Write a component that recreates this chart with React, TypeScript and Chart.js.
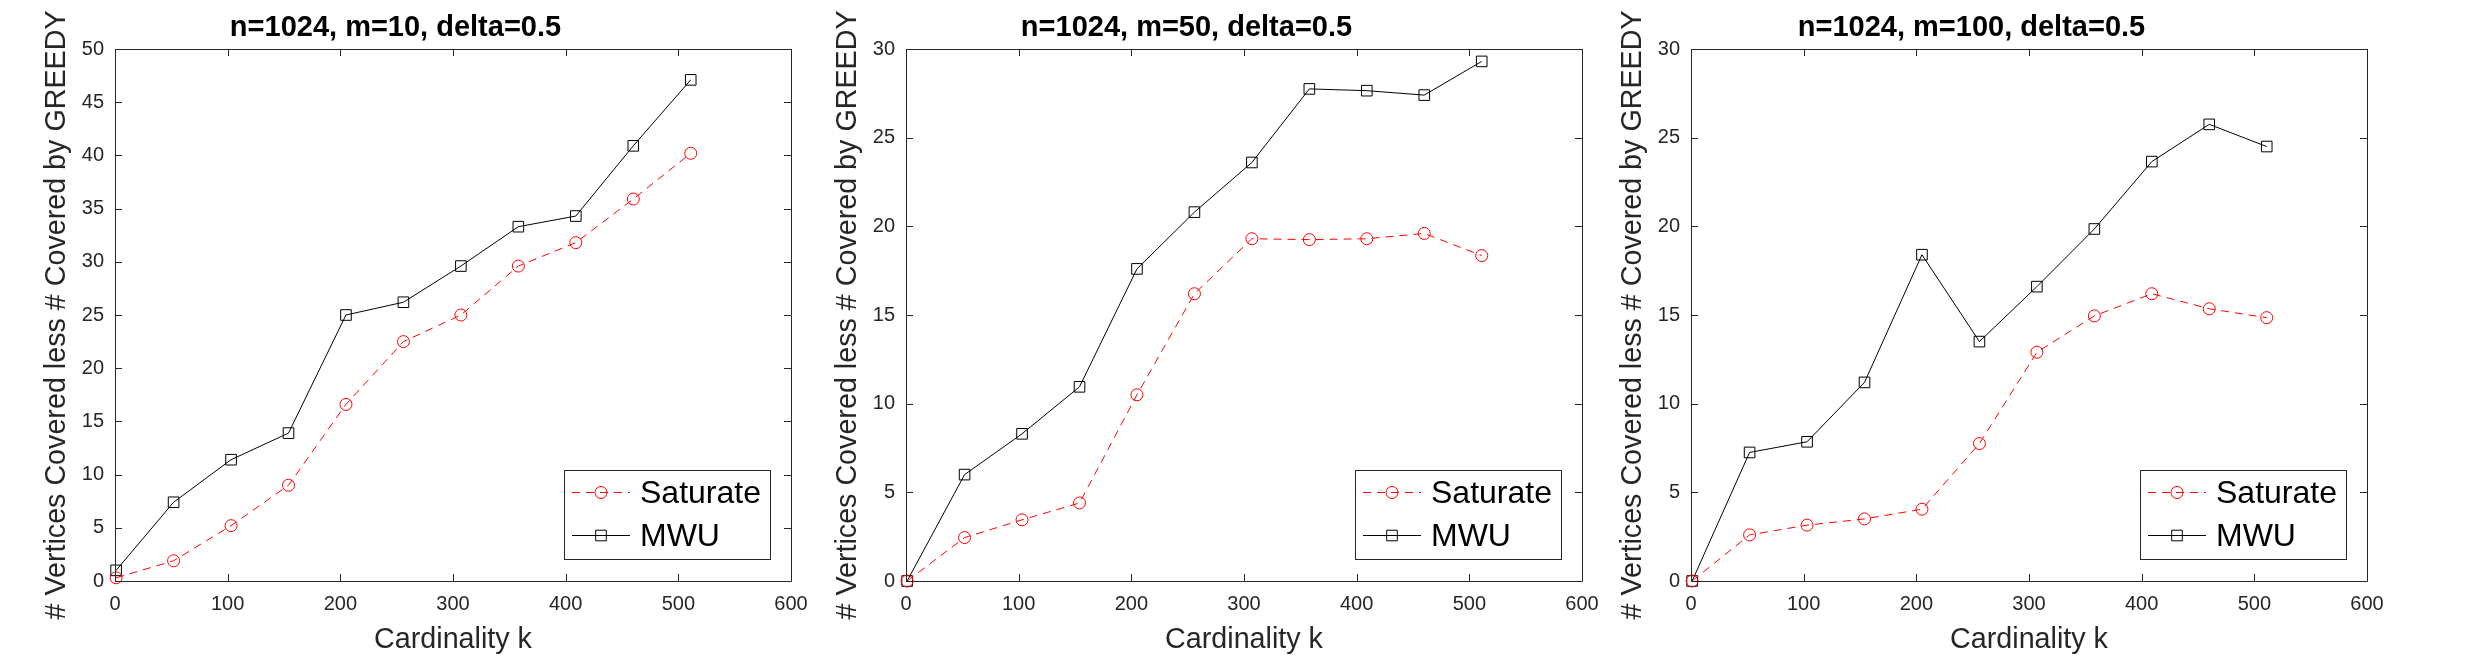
import React, { useEffect, useRef } from 'react';
import { Chart, registerables } from 'chart.js';

Chart.register(...registerables);

// ---------------- data ----------------
const kValues = [1, 52, 103, 154, 205, 256, 307, 358, 409, 460, 511];

const seriesLabels = ['Saturate', 'MWU'];
const xAxisLabel = 'Cardinality k';
const yAxisLabel = '# Vertices Covered less # Covered by GREEDY';

const titleM10 = 'n=1024, m=10, delta=0.5';
const titleM50 = 'n=1024, m=50, delta=0.5';
const titleM100 = 'n=1024, m=100, delta=0.5';

const saturateM10 = [0.3, 1.9, 5.2, 9.0, 16.6, 22.5, 25.0, 29.6, 31.8, 35.9, 40.2];
const mwuM10 = [1.0, 7.4, 11.4, 13.9, 25.0, 26.2, 29.6, 33.3, 34.3, 40.9, 47.1];

const saturateM50 = [0, 2.45, 3.45, 4.4, 10.5, 16.2, 19.3, 19.25, 19.3, 19.6, 18.35];
const mwuM50 = [0, 6.0, 8.3, 10.95, 17.6, 20.8, 23.6, 27.75, 27.65, 27.4, 29.3];

const saturateM100 = [0, 2.6, 3.15, 3.5, 4.05, 7.75, 12.9, 14.95, 16.2, 15.35, 14.85];
const mwuM100 = [0, 7.25, 7.85, 11.2, 18.4, 13.5, 16.6, 19.85, 23.65, 25.75, 24.5];

const xMin = 0;
const xMax = 600;
const xStep = 100;
const yMaxM10 = 50;
const yMaxM50 = 30;
const yMaxM100 = 30;
const yStep = 5;

// ---------------- layout / style ----------------
const AXIS_COLOR = '#262626';
const SANS = "'Liberation Sans', Arial, Helvetica, sans-serif";
const CANVAS_H = 668;
const LEFT_SPACE = 115;
const PLOT_W = 676;
const CANVAS_W = LEFT_SPACE + PLOT_W + LEFT_SPACE;

const panels = [
  { title: titleM10, saturate: saturateM10, mwu: mwuM10, yMax: yMaxM10, plotLeft: 115 },
  { title: titleM50, saturate: saturateM50, mwu: mwuM50, yMax: yMaxM50, plotLeft: 906 },
  { title: titleM100, saturate: saturateM100, mwu: mwuM100, yMax: yMaxM100, plotLeft: 1691 },
];

const matlabAxesPlugin = {
  id: 'matlabAxes',
  afterDatasetsDraw(chart: any) {
    const { ctx, chartArea } = chart;
    const { left, right, top, bottom } = chartArea;
    const xs = chart.scales.x;
    const ys = chart.scales.y;
    const tl = 7;
    ctx.save();
    ctx.strokeStyle = AXIS_COLOR;
    ctx.lineWidth = 1;
    ctx.setLineDash([]);
    ctx.beginPath();
    ctx.rect(Math.round(left) + 0.5, Math.round(top) + 0.5, Math.round(right - left), Math.round(bottom - top));
    ctx.stroke();
    ctx.beginPath();
    xs.ticks.forEach((t: any) => {
      const px = Math.round(xs.getPixelForValue(t.value)) + 0.5;
      ctx.moveTo(px, bottom);
      ctx.lineTo(px, bottom - tl);
      ctx.moveTo(px, top);
      ctx.lineTo(px, top + tl);
    });
    ys.ticks.forEach((t: any) => {
      const py = Math.round(ys.getPixelForValue(t.value)) + 0.5;
      ctx.moveTo(left, py);
      ctx.lineTo(left + tl, py);
      ctx.moveTo(right, py);
      ctx.lineTo(right - tl, py);
    });
    ctx.stroke();
    ctx.restore();
  },
};

function drawMarker(ctx: CanvasRenderingContext2D, style: string, x: number, y: number, r: number) {
  ctx.beginPath();
  if (style === 'rect') {
    const s = Math.SQRT1_2 * r;
    ctx.rect(x - s, y - s, 2 * s, 2 * s);
  } else {
    ctx.arc(x, y, r, 0, Math.PI * 2);
  }
  ctx.stroke();
}

const legendPlugin = {
  id: 'matlabLegend',
  afterDraw(chart: any) {
    const { ctx, chartArea } = chart;
    const w = 206;
    const h = 89;
    const x0 = Math.round(chartArea.right - 21 - w);
    const y0 = Math.round(chartArea.bottom - 22 - h);
    ctx.save();
    ctx.fillStyle = '#ffffff';
    ctx.fillRect(x0, y0, w, h);
    ctx.strokeStyle = AXIS_COLOR;
    ctx.lineWidth = 1;
    ctx.setLineDash([]);
    ctx.strokeRect(x0 + 0.5, y0 + 0.5, w, h);
    chart.data.datasets.forEach((ds: any, i: number) => {
      const ry = y0 + 22 + i * 43;
      ctx.strokeStyle = ds.borderColor;
      ctx.lineWidth = ds.borderWidth;
      ctx.setLineDash(ds.borderDash || []);
      ctx.beginPath();
      ctx.moveTo(x0 + 8, ry + 0.5);
      ctx.lineTo(x0 + 66, ry + 0.5);
      ctx.stroke();
      ctx.setLineDash([]);
      drawMarker(ctx, ds.pointStyle, x0 + 37, ry + 0.5, ds.pointRadius);
      ctx.fillStyle = '#000000';
      ctx.font = `32px ${SANS}`;
      ctx.textAlign = 'left';
      ctx.textBaseline = 'middle';
      ctx.fillText(ds.label, x0 + 76, ry + 2);
    });
    ctx.restore();
  },
};

function Panel({ title, saturate, mwu, yMax, plotLeft }: any) {
  const ref = useRef<HTMLCanvasElement | null>(null);
  useEffect(() => {
    if (!ref.current) return;
    const chart = new Chart(ref.current, {
      type: 'line',
      data: {
        datasets: [
          {
            label: seriesLabels[0],
            data: kValues.map((k, i) => ({ x: k, y: saturate[i] })),
            borderColor: '#ff0000',
            borderWidth: 1,
            borderDash: [8, 6],
            pointStyle: 'circle',
            pointRadius: 6,
            pointBorderColor: '#ff0000',
            pointBackgroundColor: 'rgba(0,0,0,0)',
            pointBorderWidth: 1,
            tension: 0,
            clip: false,
          } as any,
          {
            label: seriesLabels[1],
            data: kValues.map((k, i) => ({ x: k, y: mwu[i] })),
            borderColor: '#000000',
            borderWidth: 1,
            pointStyle: 'rect',
            pointRadius: 7.5,
            pointBorderColor: '#000000',
            pointBackgroundColor: 'rgba(0,0,0,0)',
            pointBorderWidth: 1,
            tension: 0,
            clip: false,
          } as any,
        ],
      },
      options: {
        responsive: false,
        animation: false,
        devicePixelRatio: 1,
        layout: { padding: { left: 0, right: LEFT_SPACE, top: 0, bottom: 0 } },
        plugins: {
          legend: { display: false },
          tooltip: { enabled: false },
          title: {
            display: true,
            text: title,
            color: '#000000',
            font: { family: SANS, weight: 'bold', size: 29 },
            padding: { top: 11, bottom: 3.2 },
          },
        },
        scales: {
          x: {
            type: 'linear',
            min: xMin,
            max: xMax,
            grid: { display: false, drawTicks: false },
            border: { display: false },
            ticks: {
              stepSize: xStep,
              color: AXIS_COLOR,
              font: { family: SANS, size: 20 },
              padding: 11,
              maxRotation: 0,
            },
            title: {
              display: true,
              text: xAxisLabel,
              color: AXIS_COLOR,
              font: { family: SANS, size: 28.7 },
              padding: { top: 0, bottom: 10.6 },
            },
            afterFit: (s: any) => {
              s.height = 87;
            },
          },
          y: {
            type: 'linear',
            min: 0,
            max: yMax,
            grid: { display: false, drawTicks: false },
            border: { display: false },
            ticks: {
              stepSize: yStep,
              color: AXIS_COLOR,
              font: { family: SANS, size: 20 },
              padding: 11,
            },
            title: {
              display: true,
              text: yAxisLabel,
              color: AXIS_COLOR,
              font: { family: SANS, size: 28.7 },
              padding: { top: 39.7, bottom: 0 },
            },
            afterFit: (s: any) => {
              s.width = LEFT_SPACE;
            },
          },
        },
      } as any,
      plugins: [matlabAxesPlugin, legendPlugin],
    });
    return () => chart.destroy();
  }, [title, saturate, mwu, yMax]);

  return (
    <canvas
      ref={ref}
      width={CANVAS_W}
      height={CANVAS_H}
      style={{ position: 'absolute', left: plotLeft - LEFT_SPACE, top: 0, width: CANVAS_W, height: CANVAS_H }}
    />
  );
}

export default function App() {
  return (
    <div
      style={{
        position: 'absolute',
        left: 0,
        top: 0,
        width: 2466,
        height: 668,
        background: '#ffffff',
        overflow: 'hidden',
      }}
    >
      {panels.map((p, i) => (
        <Panel key={i} {...p} />
      ))}
    </div>
  );
}
